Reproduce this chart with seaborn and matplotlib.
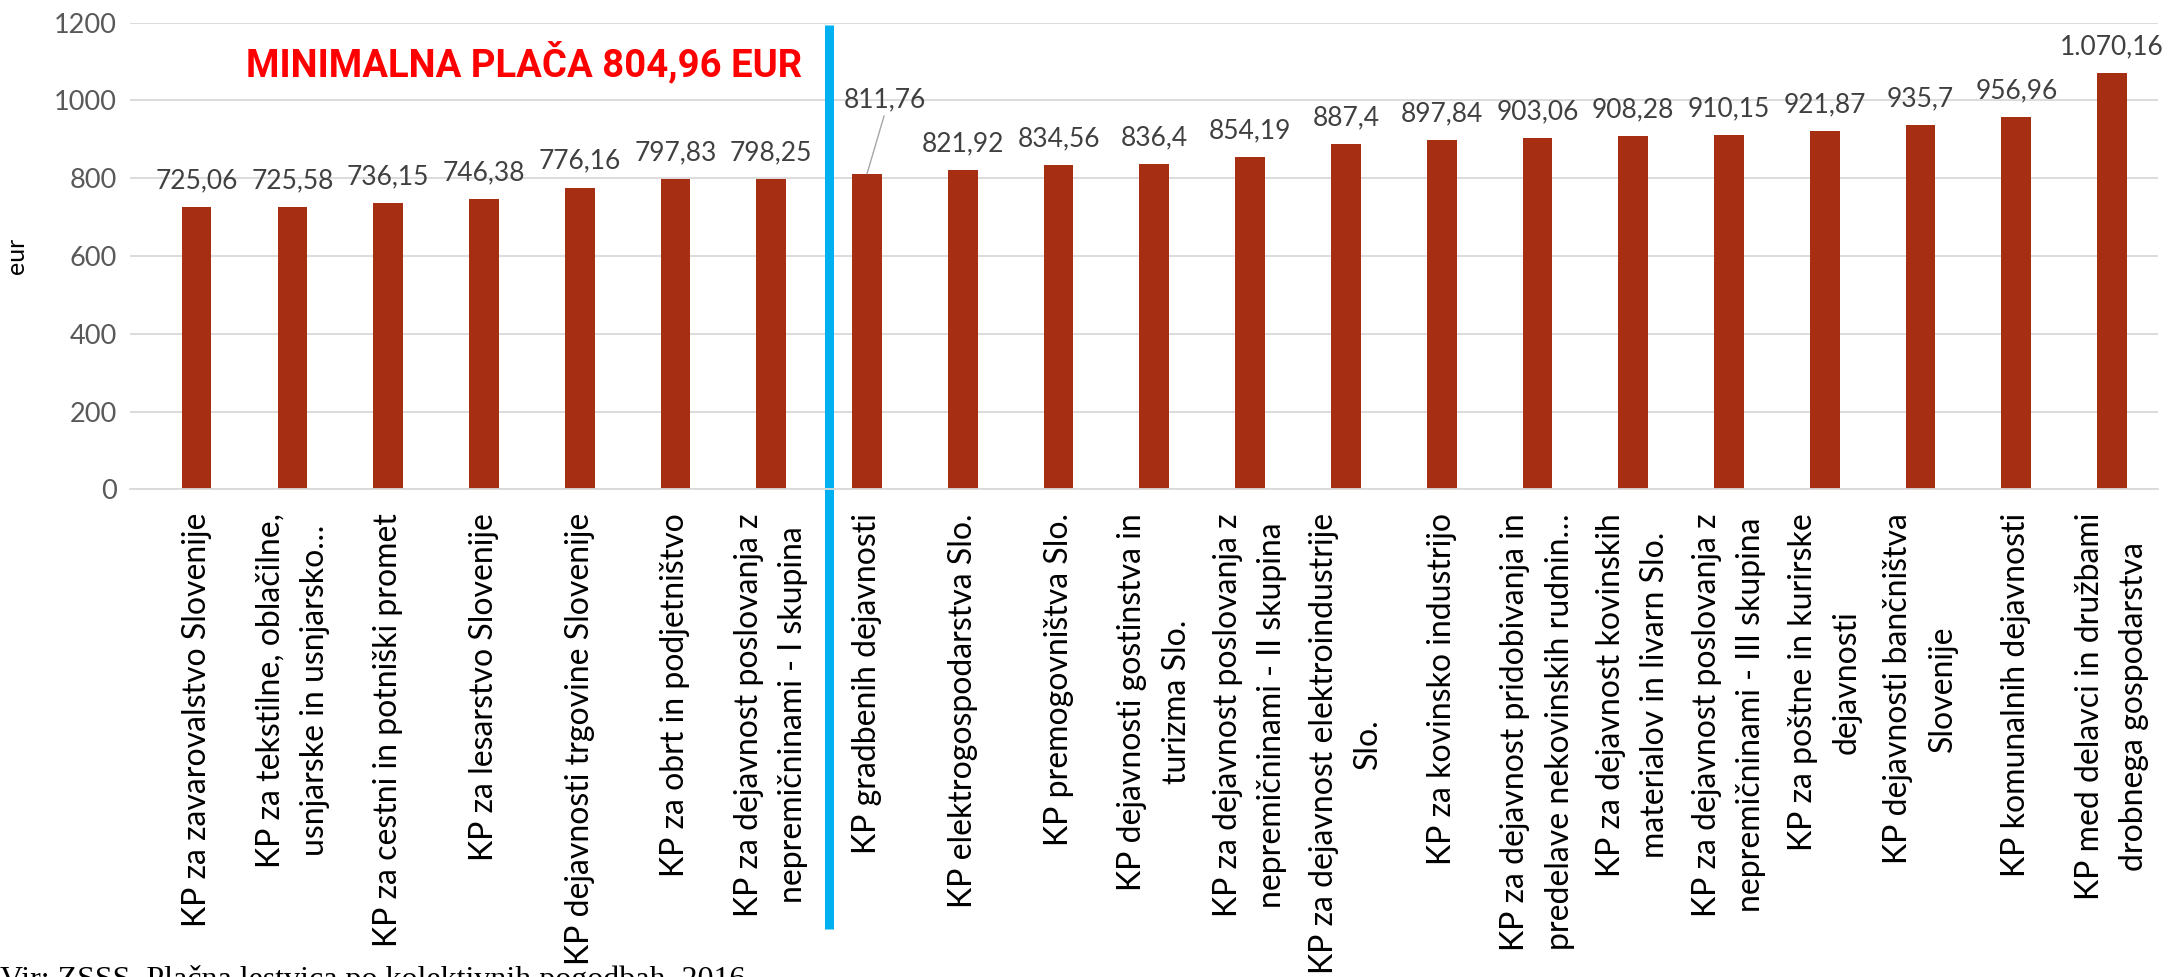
import matplotlib
matplotlib.use("Agg")
import matplotlib.pyplot as plt
import matplotlib.transforms as mtransforms
import seaborn as sns
import pandas as pd

# ---- data ----
categories = [
    "KP za zavarovalstvo Slovenije",
    "KP za tekstilne, oblačilne,\nusnjarske in usnjarsko…",
    "KP za cestni in potniški promet",
    "KP za lesarstvo Slovenije",
    "KP dejavnosti trgovine Slovenije",
    "KP za obrt in podjetništvo",
    "KP za dejavnost poslovanja z\nnepremičninami - I skupina",
    "KP gradbenih dejavnosti",
    "KP elektrogospodarstva Slo.",
    "KP premogovništva Slo.",
    "KP dejavnosti gostinstva in\nturizma Slo.",
    "KP za dejavnost poslovanja z\nnepremičninami - II skupina",
    "KP za dejavnost elektroindustrije\nSlo.",
    "KP za kovinsko industrijo",
    "KP za dejavnost pridobivanja in\npredelave nekovinskih rudnin…",
    "KP za dejavnost kovinskih\nmaterialov in livarn Slo.",
    "KP za dejavnost poslovanja z\nnepremičninami - III skupina",
    "KP za poštne in kurirske\ndejavnosti",
    "KP dejavnosti bančništva\nSlovenije",
    "KP komunalnih dejavnosti",
    "KP med delavci in družbami\ndrobnega gospodarstva",
]
values = [725.06, 725.58, 736.15, 746.38, 776.16, 797.83, 798.25, 811.76,
          821.92, 834.56, 836.4, 854.19, 887.4, 897.84, 903.06, 908.28,
          910.15, 921.87, 935.7, 956.96, 1070.16]
value_labels = ["725,06", "725,58", "736,15", "746,38", "776,16", "797,83",
                "798,25", "811,76", "821,92", "834,56", "836,4", "854,19",
                "887,4", "897,84", "903,06", "908,28", "910,15", "921,87",
                "935,7", "956,96", "1.070,16"]
y_ticks = [0, 200, 400, 600, 800, 1000, 1200]
title_text = "MINIMALNA PLAČA 804,96 EUR"
y_label = "eur"
source_text = "Vir: ZSSS, Plačna lestvica po kolektivnih pogodbah, 2016"

# ---- style ----
sns.set_theme(style="white")
plt.rcParams["font.family"] = ["Lato", "DejaVu Sans"]

BAR_COLOR = "#A62F13"
GRID_COLOR = "#D9D9D9"
DIVIDER_POS = 6.6
LEADER_IDX = 7

fig = plt.figure(figsize=(21.7, 9.77), dpi=100)
ax = fig.add_axes([0.0597, 0.4990, 0.9348, 0.4778])

df = pd.DataFrame({"kp": categories, "eur": values})
sns.barplot(data=df, x="kp", y="eur", order=categories, color=BAR_COLOR,
            saturation=1, width=0.31, linewidth=0, ax=ax, errorbar=None)

ax.set_xlim(-0.70, 20.48)
ax.set_ylim(0, 1200)
ax.set_yticks(y_ticks)
ax.set_yticklabels([str(t) for t in y_ticks], fontsize=19.5, color="#595959")
ax.set_xticks(range(len(categories)))
ax.set_xticklabels(categories, rotation=90, fontsize=23, linespacing=1.6,
                   color="black", ha="center", va="top")
ax.tick_params(axis="x", length=0, pad=17)
ax.tick_params(axis="y", length=0, pad=9)

ax.yaxis.grid(True, color=GRID_COLOR, linewidth=1.3)
ax.xaxis.grid(False)
ax.set_axisbelow(True)
for side in ["top", "right", "left"]:
    ax.spines[side].set_visible(False)
ax.spines["bottom"].set_color(GRID_COLOR)
ax.spines["bottom"].set_linewidth(1.3)

ax.set_xlabel("")
ax.set_ylabel(y_label, fontsize=18, color="black")
ax.yaxis.set_label_coords(-0.05, 0.5)

# value labels
for i, (v, lab) in enumerate(zip(values, value_labels)):
    if i == LEADER_IDX:
        ax.annotate(lab, xy=(i, v), xytext=(13, 53), textcoords="offset points",
                    ha="center", va="center", fontsize=19, color="#404040",
                    arrowprops=dict(arrowstyle="-", color="#A6A6A6", lw=1,
                                    shrinkA=0, shrinkB=0, relpos=(0.5, 0)))
    else:
        ax.annotate(lab, xy=(i, v), xytext=(0, 19), textcoords="offset points",
                    ha="center", va="center", fontsize=19, color="#404040")

# divider line
trans = mtransforms.blended_transform_factory(ax.transData, fig.transFigure)
ax.plot([DIVIDER_POS, DIVIDER_POS], [0.049, 0.974], transform=trans,
        color="#00B0F0", lw=6.5, clip_on=False, solid_capstyle="butt")

# title
fig.text(0.2415, 0.9355, title_text, color="#FF0000", fontsize=27.5,
         fontweight="bold", family=["Roboto", "DejaVu Sans"],
         ha="center", va="center")

# source (cut off at the bottom edge, as in the original)
fig.text(0.0, 1 - 965 / 977, source_text, family=["Liberation Serif", "DejaVu Serif"],
         fontsize=23, color="black", ha="left", va="top")

fig.savefig("out.png", dpi=100)
